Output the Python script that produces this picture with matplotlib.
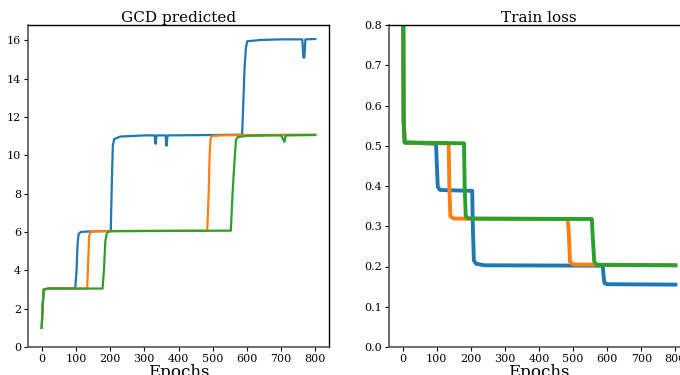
import matplotlib
matplotlib.use("Agg")
import matplotlib.pyplot as plt

plt.rcParams['font.family'] = ['DejaVu Serif']

# GCD predicted (epoch, value) keypoints per run
gcd_blue_x = [0, 3, 6, 20, 98, 102, 105, 108, 114, 130, 202, 205, 208, 212, 230, 300, 330, 333, 336, 362, 365, 368, 500, 586, 590, 593, 597, 601, 640, 700, 762, 765, 768, 771, 800]
gcd_blue_y = [1.0, 2.2, 3.0, 3.05, 3.05, 4.0, 5.4, 5.9, 6.0, 6.02, 6.05, 8.5, 10.5, 10.85, 10.98, 11.04, 11.04, 10.6, 11.04, 11.04, 10.5, 11.04, 11.06, 11.08, 13.0, 14.5, 15.6, 15.95, 16.02, 16.05, 16.05, 15.1, 15.1, 16.05, 16.07]
gcd_orange_x = [0, 3, 6, 20, 133, 136, 139, 143, 160, 484, 488, 491, 494, 498, 520, 600, 700, 800]
gcd_orange_y = [1.0, 2.2, 3.0, 3.05, 3.05, 4.5, 5.8, 6.02, 6.05, 6.07, 7.9, 10.0, 10.9, 11.0, 11.04, 11.06, 11.07, 11.08]
gcd_green_x = [0, 3, 6, 20, 178, 182, 186, 190, 194, 210, 400, 553, 558, 563, 568, 573, 600, 700, 710, 713, 716, 800]
gcd_green_y = [1.0, 2.2, 3.0, 3.05, 3.05, 4.0, 5.5, 5.9, 6.02, 6.04, 6.06, 6.07, 8.0, 9.5, 10.8, 10.95, 11.02, 11.04, 10.7, 11.04, 11.04, 11.06]

# Train loss (epoch, value) keypoints per run
loss_blue_x = [0, 3, 6, 98, 100, 103, 110, 204, 206, 209, 215, 240, 587, 589, 592, 600, 800]
loss_blue_y = [1.2, 0.56, 0.508, 0.505, 0.46, 0.398, 0.39, 0.388, 0.30, 0.215, 0.207, 0.203, 0.202, 0.18, 0.159, 0.156, 0.155]
loss_orange_x = [0, 3, 6, 135, 137, 140, 150, 484, 487, 491, 500, 800]
loss_orange_y = [1.2, 0.56, 0.508, 0.506, 0.40, 0.325, 0.319, 0.318, 0.29, 0.212, 0.205, 0.203]
loss_green_x = [0, 3, 6, 180, 182, 185, 195, 555, 558, 562, 570, 800]
loss_green_y = [1.2, 0.56, 0.508, 0.506, 0.40, 0.325, 0.319, 0.318, 0.27, 0.212, 0.204, 0.203]

xticks = [0, 100, 200, 300, 400, 500, 600, 700, 800]
gcd_yticks = [0, 2, 4, 6, 8, 10, 12, 14, 16]
loss_yticks = [0.0, 0.1, 0.2, 0.3, 0.4, 0.5, 0.6, 0.7, 0.8]

C = ['#1f77b4', '#ff7f0e', '#2ca02c']

fig = plt.figure(figsize=(6.8, 3.75), dpi=100)
ax1 = fig.add_axes([28/680, 1-347/375, 301/680, 322/375])
ax2 = fig.add_axes([389/680, 1-347/375, 300/680, 322/375])

for xs, ys, c in [(gcd_blue_x, gcd_blue_y, C[0]), (gcd_orange_x, gcd_orange_y, C[1]), (gcd_green_x, gcd_green_y, C[2])]:
    ax1.plot(xs, ys, color=c, lw=1.6)
for xs, ys, c in [(loss_blue_x, loss_blue_y, C[0]), (loss_orange_x, loss_orange_y, C[1]), (loss_green_x, loss_green_y, C[2])]:
    ax2.plot(xs, ys, color=c, lw=2.8)

ax1.set_xlim(-40, 840)
ax1.set_ylim(0, 16.8)
ax2.set_xlim(-40, 840)
ax2.set_ylim(0, 0.8)

for ax, yt in [(ax1, gcd_yticks), (ax2, loss_yticks)]:
    ax.set_xticks(xticks)
    ax.set_yticks(yt)
    ax.tick_params(labelsize=8, length=3, width=0.8, pad=2)
    ax.set_xlabel('Epochs', fontsize=12, labelpad=0)
    for s in ['left', 'bottom']:
        ax.spines[s].set_color('#555555')
        ax.spines[s].set_linewidth(1.2)
    for s in ['top', 'right']:
        ax.spines[s].set_color('black')
        ax.spines[s].set_linewidth(1.0)

ax1.set_title('GCD predicted', fontsize=11, pad=2)
ax2.set_title('Train loss', fontsize=11, pad=2)
ax2.set_yticklabels(['0.0', '0.1', '0.2', '0.3', '0.4', '0.5', '0.6', '0.7', '0.8'])

fig.savefig('out.png', dpi=100)
